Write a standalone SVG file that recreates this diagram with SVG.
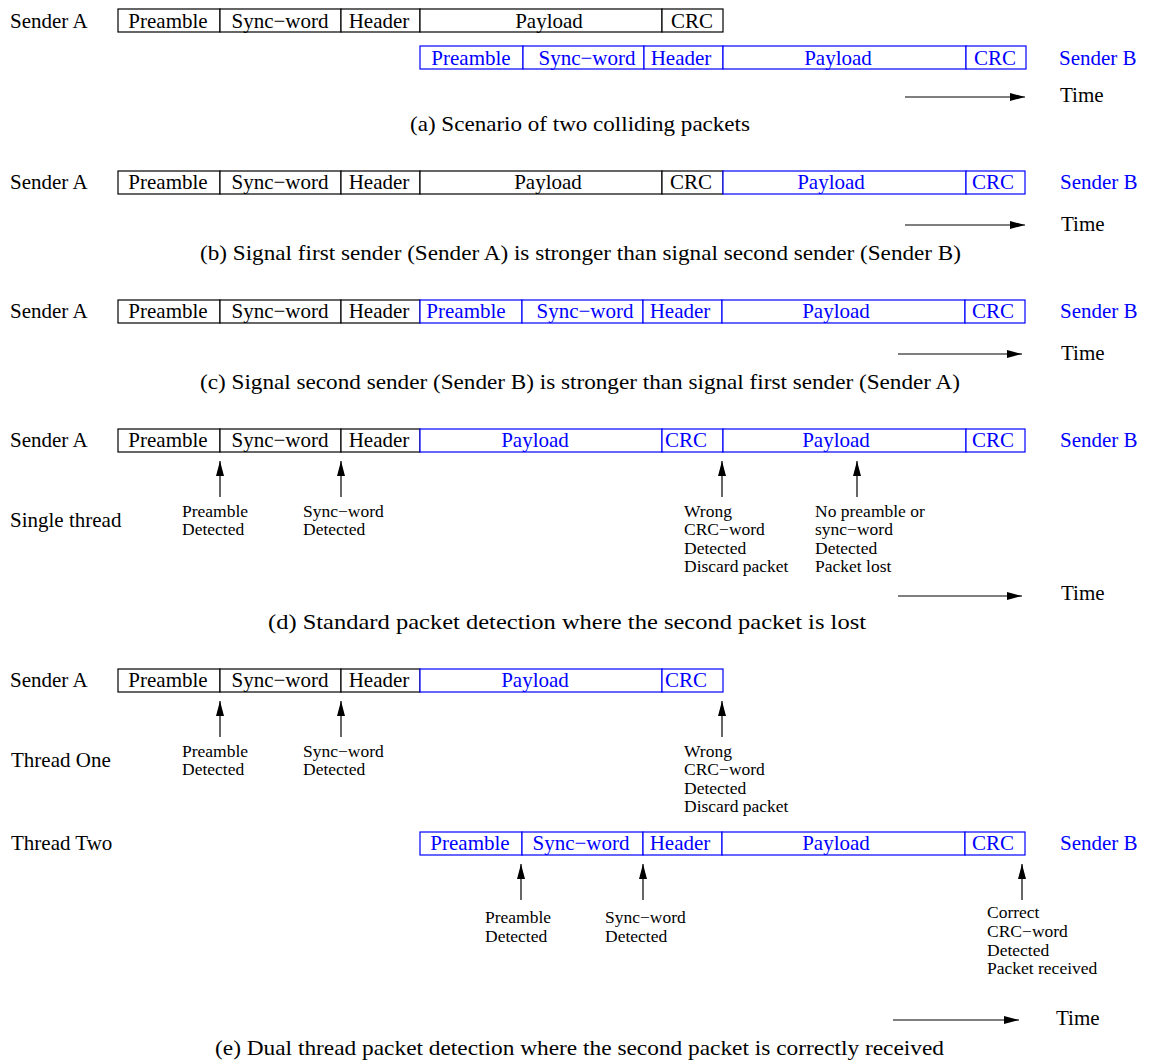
<svg xmlns="http://www.w3.org/2000/svg" width="1155" height="1064" viewBox="0 0 1155 1064">
<style>
text{font-family:"Liberation Serif","Times New Roman",serif;font-size:21px;fill:#000}
.b{fill:#0000ff}
.m{text-anchor:middle}
.s{font-size:17.5px}
.c{font-size:21.5px}
.k{fill:#fff;stroke:#000;stroke-width:1.2}
.u{fill:#fff;stroke:#0000ff;stroke-width:1.2}
.ln{stroke:#000;stroke-width:1.2;fill:none}
</style>
<defs>
<marker id="ah" viewBox="0 0 15 8" refX="15" refY="4" markerWidth="15" markerHeight="8" markerUnits="userSpaceOnUse" orient="auto">
<path d="M0,0 L15,4 L0,8 Z" fill="#000"/>
</marker>
</defs>

<!-- (a) -->
<g id="a-senderA">
<rect class="k" x="118" y="9" width="102" height="23"/><rect class="k" x="220" y="9" width="121" height="23"/><rect class="k" x="341" y="9" width="79" height="23"/><rect class="k" x="420" y="9" width="242" height="23"/><rect class="k" x="662" y="9" width="61" height="23"/>
<text x="10" y="28">Sender A</text>
<text class="m" x="168" y="28">Preamble</text><text class="m" x="280" y="28">Sync−word</text><text class="m" x="379" y="28">Header</text><text class="m" x="549" y="28">Payload</text><text class="m" x="692" y="28">CRC</text>
</g>
<g id="a-senderB">
<rect class="u" x="420" y="46" width="103" height="23"/><rect class="u" x="523" y="46" width="121" height="23"/><rect class="u" x="644" y="46" width="79" height="23"/><rect class="u" x="723" y="46" width="243" height="23"/><rect class="u" x="966" y="46" width="60" height="23"/>
<text class="b m" x="471" y="65">Preamble</text><text class="b m" x="587" y="65">Sync−word</text><text class="b m" x="681" y="65">Header</text><text class="b m" x="838" y="65">Payload</text><text class="b m" x="995" y="65">CRC</text>
<text class="b" x="1059" y="65">Sender B</text>
</g>
<g id="a-time"><text x="1060" y="102">Time</text></g>
<text class="c" x="410" y="131" textLength="340" lengthAdjust="spacingAndGlyphs">(a) Scenario of two colliding packets</text>

<!-- (b) -->
<g id="b-row">
<rect class="k" x="118" y="171" width="102" height="23"/><rect class="k" x="220" y="171" width="121" height="23"/><rect class="k" x="341" y="171" width="79" height="23"/><rect class="k" x="420" y="171" width="242" height="23"/><rect class="k" x="662" y="171" width="61" height="23"/>
<rect class="u" x="723" y="171" width="243" height="23"/><rect class="u" x="966" y="171" width="59" height="23"/>
<text x="10" y="189">Sender A</text>
<text class="m" x="168" y="189">Preamble</text><text class="m" x="280" y="189">Sync−word</text><text class="m" x="379" y="189">Header</text><text class="m" x="548" y="189">Payload</text><text class="m" x="691" y="189">CRC</text>
<text class="b m" x="831" y="189">Payload</text><text class="b m" x="993" y="189">CRC</text>
<text class="b" x="1060" y="189">Sender B</text>
</g>
<g id="b-time"><text x="1061" y="231">Time</text></g>
<text class="c" x="200" y="260" textLength="761" lengthAdjust="spacingAndGlyphs">(b) Signal first sender (Sender A) is stronger than signal second sender (Sender B)</text>

<!-- (c) -->
<g id="c-row">
<rect class="k" x="118" y="300" width="102" height="23"/><rect class="k" x="220" y="300" width="121" height="23"/><rect class="k" x="341" y="300" width="79" height="23"/>
<rect class="u" x="420" y="300" width="102" height="23"/><rect class="u" x="522" y="300" width="121" height="23"/><rect class="u" x="643" y="300" width="79" height="23"/><rect class="u" x="722" y="300" width="243" height="23"/><rect class="u" x="965" y="300" width="60" height="23"/>
<text x="10" y="318">Sender A</text>
<text class="m" x="168" y="318">Preamble</text><text class="m" x="280" y="318">Sync−word</text><text class="m" x="379" y="318">Header</text>
<text class="b m" x="466" y="318">Preamble</text><text class="b m" x="585" y="318">Sync−word</text><text class="b m" x="680" y="318">Header</text><text class="b m" x="836" y="318">Payload</text><text class="b m" x="993" y="318">CRC</text>
<text class="b" x="1060" y="318">Sender B</text>
</g>
<g id="c-time"><text x="1061" y="360">Time</text></g>
<text class="c" x="200" y="389" textLength="760" lengthAdjust="spacingAndGlyphs">(c) Signal second sender (Sender B) is stronger than signal first sender (Sender A)</text>

<!-- (d) -->
<g id="d-row">
<rect class="k" x="118" y="429" width="102" height="23"/><rect class="k" x="220" y="429" width="121" height="23"/><rect class="k" x="341" y="429" width="79" height="23"/>
<rect class="u" x="420" y="429" width="242" height="23"/><rect class="u" x="662" y="429" width="61" height="23"/><rect class="u" x="723" y="429" width="243" height="23"/><rect class="u" x="966" y="429" width="59" height="23"/>
<text x="10" y="447">Sender A</text>
<text class="m" x="168" y="447">Preamble</text><text class="m" x="280" y="447">Sync−word</text><text class="m" x="379" y="447">Header</text>
<text class="b m" x="535" y="447">Payload</text><text class="b m" x="686" y="447">CRC</text><text class="b m" x="836" y="447">Payload</text><text class="b m" x="993" y="447">CRC</text>
<text class="b" x="1060" y="447">Sender B</text>
</g>
<g id="d-thread"><text x="10" y="527">Single thread</text></g>
<g id="d-ann1"><text class="s" x="182" y="517">Preamble</text><text class="s" x="182" y="535">Detected</text></g>
<g id="d-ann2"><text class="s" x="303" y="517">Sync−word</text><text class="s" x="303" y="535">Detected</text></g>
<g id="d-ann3"><text class="s" x="684" y="517">Wrong</text><text class="s" x="684" y="535">CRC−word</text><text class="s" x="684" y="553.5">Detected</text><text class="s" x="684" y="572">Discard packet</text></g>
<g id="d-ann4"><text class="s" x="815" y="517">No preamble or</text><text class="s" x="815" y="535">sync−word</text><text class="s" x="815" y="553.5">Detected</text><text class="s" x="815" y="572">Packet lost</text></g>
<g id="d-time"><text x="1061" y="600">Time</text></g>
<text class="c" x="268" y="629" textLength="598" lengthAdjust="spacingAndGlyphs">(d) Standard packet detection where the second packet is lost</text>

<!-- (e) -->
<g id="e-senderA">
<rect class="k" x="118" y="669" width="102" height="23"/><rect class="k" x="220" y="669" width="121" height="23"/><rect class="k" x="341" y="669" width="79" height="23"/>
<rect class="u" x="420" y="669" width="242" height="23"/><rect class="u" x="662" y="669" width="61" height="23"/>
<text x="10" y="687">Sender A</text>
<text class="m" x="168" y="687">Preamble</text><text class="m" x="280" y="687">Sync−word</text><text class="m" x="379" y="687">Header</text>
<text class="b m" x="535" y="687">Payload</text><text class="b m" x="686" y="687">CRC</text>
</g>
<g id="e-thread1"><text x="11" y="767">Thread One</text></g>
<g id="e-ann1"><text class="s" x="182" y="757">Preamble</text><text class="s" x="182" y="775">Detected</text></g>
<g id="e-ann2"><text class="s" x="303" y="757">Sync−word</text><text class="s" x="303" y="775">Detected</text></g>
<g id="e-ann3"><text class="s" x="684" y="757">Wrong</text><text class="s" x="684" y="775">CRC−word</text><text class="s" x="684" y="793.5">Detected</text><text class="s" x="684" y="812">Discard packet</text></g>
<g id="e-thread2"><text x="11" y="850">Thread Two</text></g>
<g id="e-senderB">
<rect class="u" x="420" y="832" width="102" height="23"/><rect class="u" x="522" y="832" width="121" height="23"/><rect class="u" x="643" y="832" width="79" height="23"/><rect class="u" x="722" y="832" width="243" height="23"/><rect class="u" x="965" y="832" width="60" height="23"/>
<text class="b m" x="470" y="850">Preamble</text><text class="b m" x="581" y="850">Sync−word</text><text class="b m" x="680" y="850">Header</text><text class="b m" x="836" y="850">Payload</text><text class="b m" x="993" y="850">CRC</text>
<text class="b" x="1060" y="850">Sender B</text>
</g>
<g id="e-ann4"><text class="s" x="485" y="923">Preamble</text><text class="s" x="485" y="942">Detected</text></g>
<g id="e-ann5"><text class="s" x="605" y="923">Sync−word</text><text class="s" x="605" y="942">Detected</text></g>
<g id="e-ann6"><text class="s" x="987" y="918">Correct</text><text class="s" x="987" y="937">CRC−word</text><text class="s" x="987" y="956">Detected</text><text class="s" x="987" y="974">Packet received</text></g>
<g id="e-time"><text x="1056" y="1025">Time</text></g>
<text class="c" x="215" y="1055" textLength="729" lengthAdjust="spacingAndGlyphs">(e) Dual thread packet detection where the second packet is correctly received</text>

<g id="connectors" class="ln" marker-end="url(#ah)">
<line x1="905" y1="97" x2="1025" y2="97"/>
<line x1="905" y1="225" x2="1025" y2="225"/>
<line x1="898" y1="354" x2="1022" y2="354"/>
<line x1="898" y1="596" x2="1022" y2="596"/>
<line x1="893" y1="1020" x2="1019" y2="1020"/>
<line x1="220" y1="497" x2="220" y2="461"/>
<line x1="341" y1="497" x2="341" y2="461"/>
<line x1="722" y1="497" x2="722" y2="461"/>
<line x1="857" y1="497" x2="857" y2="461"/>
<line x1="220" y1="737" x2="220" y2="701"/>
<line x1="341" y1="737" x2="341" y2="701"/>
<line x1="722" y1="737" x2="722" y2="701"/>
<line x1="521" y1="900" x2="521" y2="864"/>
<line x1="643" y1="900" x2="643" y2="864"/>
<line x1="1022" y1="900" x2="1022" y2="864"/>
</g>
</svg>
